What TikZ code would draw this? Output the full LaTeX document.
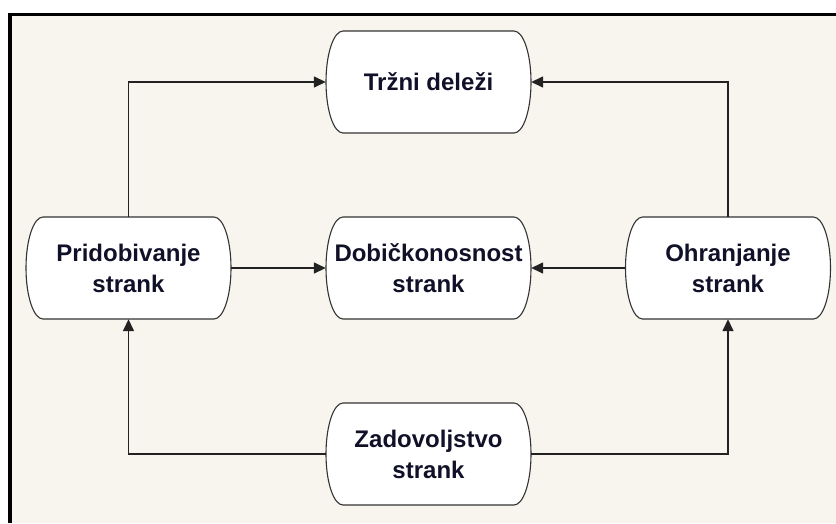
\documentclass[tikz,border=0pt]{standalone}
\usepackage{fontspec}
\setmainfont{Liberation Sans}
\usetikzlibrary{arrows.meta}
\pgfdeclarelayer{canvas}
\pgfdeclarelayer{bg}
\pgfsetlayers{canvas,bg,main}
\definecolor{paper}{HTML}{F8F5EE}
\definecolor{ink}{HTML}{101028}
\definecolor{wire}{HTML}{222222}
\definecolor{rim}{HTML}{333333}
\tikzset{
  pill/.style={rectangle, minimum width=205pt, minimum height=102pt, inner sep=0pt,
    align=center, text=ink, font=\bfseries\fontsize{24}{31}\selectfont},
  pilledge/.style={draw=rim, fill=white, line width=1.1pt},
  link/.style={draw=wire, line width=1.5pt, -{Triangle[length=12pt,width=11pt]}},
}
% point relative to a node centre
\newcommand\rel[3]{([shift={(#2,#3)}]#1.center)}
\begin{document}
\begin{tikzpicture}[x=1pt,y=-1pt]
  \useasboundingbox (0,0) rectangle (836,523);
  % canvas and frame
  \begin{pgfonlayer}{canvas}
    \fill[white] (0,0) rectangle (836,523);
    \fill[paper] (12,16) rectangle (836,523);
    \fill[black] (8,13) rectangle (12,523);
    \fill[black] (8,13) rectangle (836,16);
  \end{pgfonlayer}

  % nodes
  \node[pill] (trz) at (428.5,82)  {Tržni deleži};
  \node[pill] (dob) at (428.5,268) {Dobičkonosnost\\strank};
  \node[pill] (pri) at (128.5,268) {Pridobivanje\\strank};
  \node[pill] (ohr) at (728,268)   {Ohranjanje\\strank};
  \node[pill] (zad) at (428.5,454) {Zadovoljstvo\\strank};

  % outlines: straight top and bottom, half-ellipse ends (rx 17, ry 51)
  \begin{pgfonlayer}{bg}
    \foreach \n in {trz,dob,pri,ohr,zad}
      \draw[pilledge] \rel{\n}{-85.5}{-51} -- \rel{\n}{85.5}{-51}
        .. controls \rel{\n}{94.9}{-51} and \rel{\n}{102.5}{-28.2} .. \rel{\n}{102.5}{0}
        .. controls \rel{\n}{102.5}{28.2} and \rel{\n}{94.9}{51} .. \rel{\n}{85.5}{51}
        -- \rel{\n}{-85.5}{51}
        .. controls \rel{\n}{-94.9}{51} and \rel{\n}{-102.5}{28.2} .. \rel{\n}{-102.5}{0}
        .. controls \rel{\n}{-102.5}{-28.2} and \rel{\n}{-94.9}{-51} .. \rel{\n}{-85.5}{-51}
        -- cycle;
  \end{pgfonlayer}

  % connectors
  \draw[link] (pri.north) |- (trz.west);
  \draw[link] (ohr.north) |- (trz.east);
  \draw[link] (pri.east) -- (dob.west);
  \draw[link] (ohr.west) -- (dob.east);
  \draw[link] (zad.west) -| (pri.south);
  \draw[link] (zad.east) -| (ohr.south);
\end{tikzpicture}
\end{document}
